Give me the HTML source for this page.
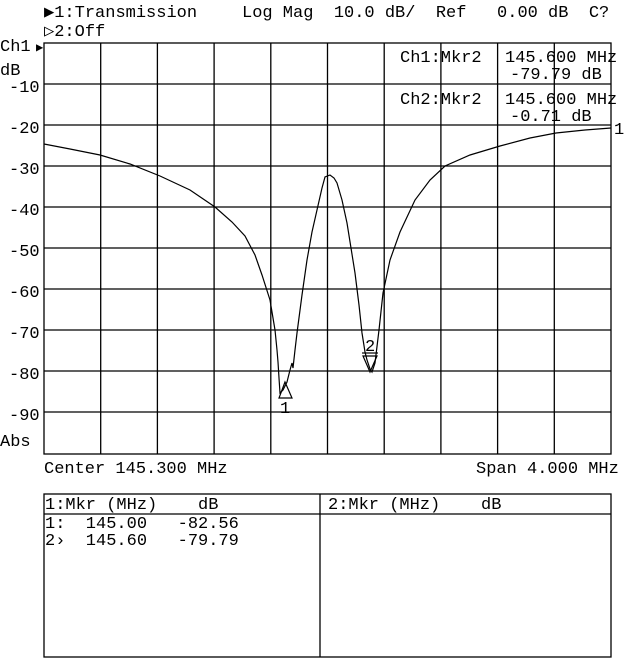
<!DOCTYPE html>
<html><head><style>
html,body{margin:0;padding:0;background:#fff;}
svg{display:block;}
text{font-family:"Liberation Mono","DejaVu Sans Mono",monospace;font-size:17px;fill:#000;white-space:pre;}
</style></head><body>
<svg width="640" height="659" viewBox="0 0 640 659" xmlns="http://www.w3.org/2000/svg" xml:space="preserve">
<rect width="640" height="659" fill="#fff"/>
<g stroke="#000" stroke-width="1.3" fill="none">
<rect x="44" y="43" width="567" height="411"/>
<line x1="44" y1="84" x2="611" y2="84"/><line x1="44" y1="125" x2="611" y2="125"/>
<line x1="44" y1="166" x2="611" y2="166"/><line x1="44" y1="207" x2="611" y2="207"/>
<line x1="44" y1="248" x2="611" y2="248"/><line x1="44" y1="289" x2="611" y2="289"/>
<line x1="44" y1="330" x2="611" y2="330"/><line x1="44" y1="371" x2="611" y2="371"/>
<line x1="44" y1="412" x2="611" y2="412"/>
<line x1="100.7" y1="43" x2="100.7" y2="454"/><line x1="157.4" y1="43" x2="157.4" y2="454"/>
<line x1="214.1" y1="43" x2="214.1" y2="454"/><line x1="270.8" y1="43" x2="270.8" y2="454"/>
<line x1="327.5" y1="43" x2="327.5" y2="454"/><line x1="384.2" y1="43" x2="384.2" y2="454"/>
<line x1="440.9" y1="43" x2="440.9" y2="454"/><line x1="497.6" y1="43" x2="497.6" y2="454"/>
<line x1="554.3" y1="43" x2="554.3" y2="454"/>
<rect x="44" y="494" width="567" height="163"/>
<line x1="44" y1="514" x2="611" y2="514"/><line x1="320" y1="494" x2="320" y2="657"/>
</g>
<polyline fill="none" stroke="#000" stroke-width="1.2" points="44,144 70,149 100,155 130,164 160,176 190,190 215,207 232,222 245,236 255,255 262,275 270,300 275,330 277,350 278,362 279,378 280,393 283,390 287,382 290,370 292,363 293,368 295,350 297,333 302,295 307,260 312,232 317,210 322,188 325,177 330,175 334,178 337,183 342,200 347,223 351,248 355,273 359,305 362,333 365,352 367,360 370,369 372,372 375,363 379,330 383,293 390,260 400,232 415,200 430,180 445,166 470,155 500,146 530,138 556,133 585,130 611,128"/>
<g stroke="#000" stroke-width="1.2" fill="none">
<polygon points="285,382 279,398 292,398"/>
<polygon points="363,356 377,356 370,372"/>
<line x1="362" y1="353" x2="378" y2="353"/>
</g>
<text x="280" y="413">1</text>
<text x="365" y="351">2</text>
<text x="614" y="134">1</text>
<text x="44" y="17">▶1:Transmission</text>
<text x="242" y="17">Log Mag  10.0 dB/  Ref   0.00 dB  C?</text>
<text x="44" y="36">▷2:Off</text>
<text x="0" y="51">Ch1</text><text x="36" y="51" style="font-size:12px">▶</text>
<text x="0" y="75">dB</text>
<text x="9" y="92">-10</text><text x="9" y="133">-20</text><text x="9" y="174">-30</text>
<text x="9" y="215">-40</text><text x="9" y="256">-50</text><text x="9" y="297">-60</text>
<text x="9" y="338">-70</text><text x="9" y="379">-80</text><text x="9" y="420">-90</text>
<text x="0" y="446">Abs</text>
<text x="400" y="62">Ch1:Mkr2</text><text x="505" y="62">145.600 MHz</text>
<text x="510" y="79">-79.79 dB</text>
<text x="400" y="104">Ch2:Mkr2</text><text x="505" y="104">145.600 MHz</text>
<text x="510" y="121">-0.71 dB</text>
<text x="44" y="473">Center 145.300 MHz</text>
<text x="476" y="473">Span 4.000 MHz</text>
<text x="45" y="509">1:Mkr (MHz)    dB</text>
<text x="328" y="509">2:Mkr (MHz)    dB</text>
<text x="45" y="528">1:  145.00   -82.56</text>
<text x="45" y="545">2›  145.60   -79.79</text>
</svg>
</body></html>
